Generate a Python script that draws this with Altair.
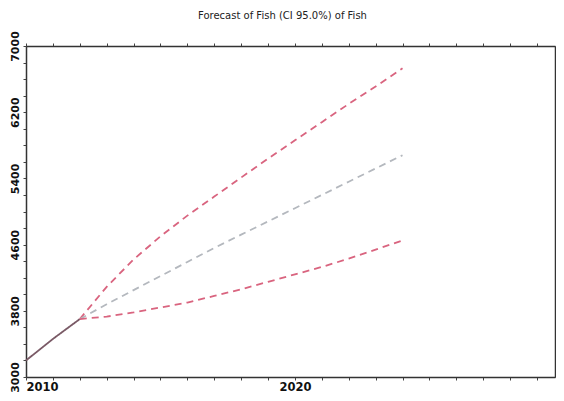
import altair as alt
import pandas as pd

# ---- data ----
actual_years = [2010, 2011, 2012]
actual_values = [3200, 3460, 3700]

fc_years = [2012, 2013, 2014, 2015, 2016, 2017, 2018, 2019, 2020, 2021, 2022, 2023, 2024]
fc_mean = [3700, 3880, 4050, 4220, 4390, 4560, 4720, 4880, 5040, 5200, 5360, 5520, 5680]
fc_upper = [3700, 4090, 4420, 4700, 4950, 5180, 5410, 5640, 5860, 6080, 6300, 6510, 6730]
fc_lower = [3700, 3730, 3780, 3840, 3900, 3980, 4060, 4150, 4240, 4330, 4430, 4540, 4650]

series_names = ["Actual", "Upper", "Forecast", "Lower"]
series_colors = ["#7a5a66", "#d9647f", "#b4b8be", "#d9647f"]
series_dash = [[1, 0], [7, 5], [7, 5], [7, 5]]

y_ticks = list(range(3000, 7001, 200))
x_ticks = list(range(2010, 2030))

rows = []
for yr, v in zip(actual_years, actual_values):
    rows.append({"year": yr, "value": v, "series": "Actual"})
for name, vals in [("Upper", fc_upper), ("Forecast", fc_mean), ("Lower", fc_lower)]:
    for yr, v in zip(fc_years, vals):
        rows.append({"year": yr, "value": v, "series": name})
df = pd.DataFrame(rows)

font = "DejaVu Sans"
xdom = [2010, 2029.67]
ydom = [3000, 7000]

lines = alt.Chart(df).mark_line(strokeWidth=1.8).encode(
    x=alt.X("year:Q", scale=alt.Scale(domain=xdom, nice=False, zero=False),
            axis=alt.Axis(values=x_ticks, format="d", title=None,
                          labelExpr="datum.value % 10 == 0 ? datum.label : ''",
                          labelFlush=True, tickSize=3, grid=False,
                          labelPadding=1, labelFontSize=11.5)),
    y=alt.Y("value:Q", scale=alt.Scale(domain=ydom, nice=False, zero=False),
            axis=alt.Axis(values=y_ticks, format="d", title=None,
                          labelExpr="(datum.value - 3000) % 800 == 0 ? datum.label : ''",
                          labelAngle=270, labelAlign="center", labelBaseline="bottom",
                          tickSize=3, grid=False, labelPadding=3, labelFontSize=11)),
    color=alt.Color("series:N", scale=alt.Scale(domain=series_names, range=series_colors), legend=None),
    strokeDash=alt.StrokeDash("series:N", scale=alt.Scale(domain=series_names, range=series_dash), legend=None),
    detail="series:N",
)

frame = alt.Chart(df).mark_point(opacity=0).encode(
    x=alt.X("year:Q", scale=alt.Scale(domain=xdom, nice=False, zero=False),
            axis=alt.Axis(orient="top", values=x_ticks, labels=False, title=None, tickSize=3, grid=False)),
    y=alt.Y("value:Q", scale=alt.Scale(domain=ydom, nice=False, zero=False),
            axis=alt.Axis(orient="right", values=y_ticks, labels=False, title=None, tickSize=3, grid=False)),
)

chart = alt.layer(lines, frame).resolve_scale(x="independent", y="independent").properties(
    width=529,
    height=331,
    autosize="none",
    padding={"left": 18, "top": 38, "right": 1, "bottom": 15},
    title=alt.Title("Forecast of Fish (CI 95.0%) of Fish", font=font, fontSize=10,
                    fontWeight="normal", color="#222222", offset=10, dx=-8),
).configure_axis(
    domainColor="#333333", domainWidth=1.5, tickColor="#444444", tickWidth=1,
    labelFont=font, labelFontWeight="bold", labelColor="#111111",
).configure_view(stroke=None)

chart.save("out.html", embed_options={"renderer": "svg", "actions": False})
